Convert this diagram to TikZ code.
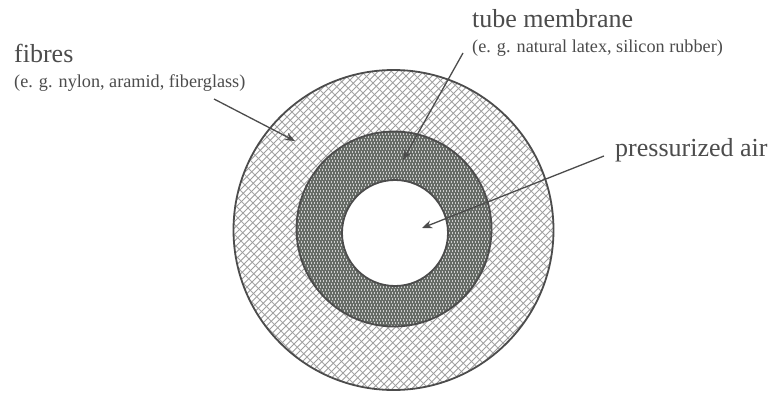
\documentclass[tikz,border=0pt]{standalone}
\usepackage{fontspec}
\setmainfont{Liberation Serif}
\usetikzlibrary{arrows.meta}
\definecolor{ink}{gray}{0.3}
\definecolor{hatchA}{gray}{0.66}
\definecolor{hatchB}{gray}{0.62}
\definecolor{darkring}{rgb}{0.40,0.42,0.40}
\definecolor{dots}{gray}{0.80}
\tikzset{
  x=1pt,y=-1pt,
  disc/.style={circle,inner sep=0pt,draw=ink,line width=1.8pt},
  lead/.style={draw=ink,line width=1.3pt,-{Stealth[length=10pt,width=8pt]}},
  big/.style={inner sep=0pt,anchor=base west,text=ink,font=\fontsize{26}{30}\selectfont},
  small/.style={inner sep=0pt,anchor=base west,text=ink,font=\fontsize{18.2}{21}\selectfont},
}
\begin{document}
\begin{tikzpicture}
\useasboundingbox (0,0) rectangle (774,396);
\fill[white] (0,0) rectangle (774,396);
% outer fibre disc
\begin{scope}
\clip (393.5,230) circle[radius=160];
\foreach \k in {-40,...,50}{
  \draw[draw=hatchA,line width=0.85pt] (230+10*\k,70) -- ++(320,320);
}
\foreach \k in {0,...,100}{
  \draw[draw=hatchB,line width=0.85pt] (230+6.5*\k,70) -- ++(-320,320);
}
\end{scope}
\node[disc,minimum size=320pt] (outer) at (393.5,230) {};
% membrane ring
\node[circle,inner sep=0pt,fill=darkring,minimum size=195pt] (ringfill) at (394,229) {};
\begin{scope}
\clip (394,229) circle[radius=97.5];
\foreach \r in {0,...,66}{
  \draw[dots,line width=1.1pt,dash pattern=on 1.4pt off 1.6pt,dash phase=\r*1.5 pt] (290,131+3*\r) -- (500,131+3*\r);
}
\end{scope}
\node[disc,minimum size=195pt] (mid) at (394,229) {};
\node[disc,fill=white,minimum size=106pt] (inner) at (395,233) {};
% labels
\node[big] (fibres) at (14,62.5) {fibres};
\node[small] (fibresub) at (14,88) {(e. g. nylon, aramid, fiberglass)};
\node[big] (tube) at (472,28) {tube membrane};
\node[small] (tubesub) at (472,53) {(e. g. natural latex, silicon rubber)};
\node[big] (air) at (615,156) {pressurized air};
% anchors of leaders
\coordinate (fibrestart) at (214,99);
\coordinate (fibreend) at (295,141);
\coordinate (tubestart) at (463,53);
\coordinate (tubeend) at (403,160);
\coordinate (airstart) at (604,156);
\coordinate (airend) at (422,228);
\draw[lead] (fibrestart) -- (fibreend);
\draw[lead] (tubestart) -- (tubeend);
\draw[lead] (airstart) -- (airend);
\end{tikzpicture}
\end{document}
